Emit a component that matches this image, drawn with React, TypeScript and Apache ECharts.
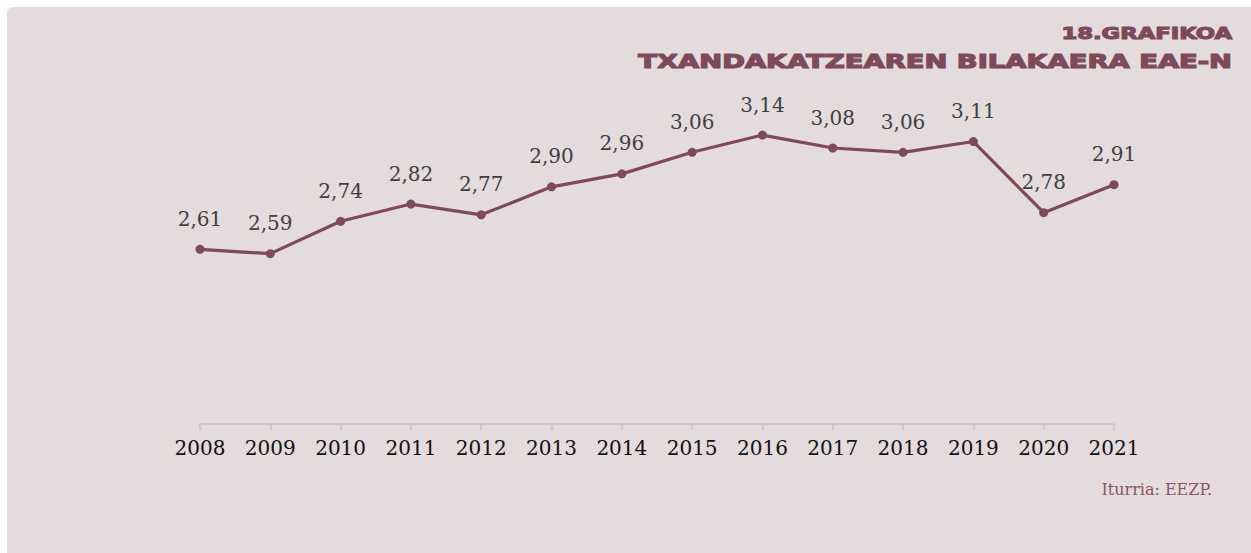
import React, { useEffect, useRef } from "react";
import * as echarts from "echarts";

const years = ["2008","2009","2010","2011","2012","2013","2014","2015","2016","2017","2018","2019","2020","2021"];
const values = [2.61, 2.59, 2.74, 2.82, 2.77, 2.90, 2.96, 3.06, 3.14, 3.08, 3.06, 3.11, 2.78, 2.91];
const titleLine1 = "18.GRAFIKOA";
const titleLine2 = "TXANDAKATZEAREN BILAKAERA EAE-N";
const sourceText = "Iturria: EEZP.";

export default function App() {
  const ref = useRef<HTMLDivElement>(null);
  useEffect(() => {
    if (!ref.current) return;
    const chart = echarts.init(ref.current, null, { renderer: "svg" });
    chart.setOption({
      animation: false,
      backgroundColor: "#ffffff",
      graphic: [
        { type: "rect", z: -10, shape: { x: 7, y: 7, width: 1244, height: 546, r: [6, 0, 0, 0] }, style: { fill: "#e3dbdc" } },
        { type: "text", x: 1232, y: 34, scaleX: 1.42, originX: 0, originY: 0, style: { text: titleLine1, fill: "#7e4a5b", stroke: "#7e4a5b", lineWidth: 1.1, font: "bold 16px 'DejaVu Sans'", align: "right", verticalAlign: "middle" } },
        { type: "text", x: 1232, y: 62, scaleX: 1.44, originX: 0, originY: 0, style: { text: titleLine2, fill: "#7e4a5b", stroke: "#7e4a5b", lineWidth: 1.2, font: "bold 19px 'DejaVu Sans'", align: "right", verticalAlign: "middle" } },
        { type: "text", x: 1212, y: 489, style: { text: sourceText, fill: "#8a5566", font: "16px 'DejaVu Serif'", align: "right", verticalAlign: "middle" } },
      ],
      grid: { left: 200, right: 137, top: 79, bottom: 129 },
      xAxis: {
        type: "category",
        data: years,
        boundaryGap: false,
        axisLine: { lineStyle: { color: "#c6c6c6", width: 1.5 } },
        axisTick: { show: true, length: 6, lineStyle: { color: "#c6c6c6", width: 1.5 } },
        axisLabel: { color: "#111111", fontFamily: "DejaVu Serif", fontSize: 20, margin: 14 },
      },
      yAxis: {
        type: "value",
        min: 1.8,
        max: 3.4,
        show: false,
        splitLine: { show: false },
      },
      series: [
        {
          type: "line",
          data: values,
          symbol: "circle",
          symbolSize: 9,
          lineStyle: { color: "#7e4a5b", width: 3.2 },
          itemStyle: { color: "#7e4a5b" },
          label: {
            show: true,
            position: "top",
            distance: 16,
            color: "#404040",
            fontFamily: "DejaVu Serif",
            fontSize: 20,
            formatter: (p: any) => p.value.toFixed(2).replace(".", ","),
          },
        },
      ],
    });
    return () => chart.dispose();
  }, []);
  return (
    <div style={{ position: "absolute", left: 0, top: 0, width: 1251, height: 553 }}>
      <div ref={ref} style={{ width: 1251, height: 553 }} />
    </div>
  );
}
